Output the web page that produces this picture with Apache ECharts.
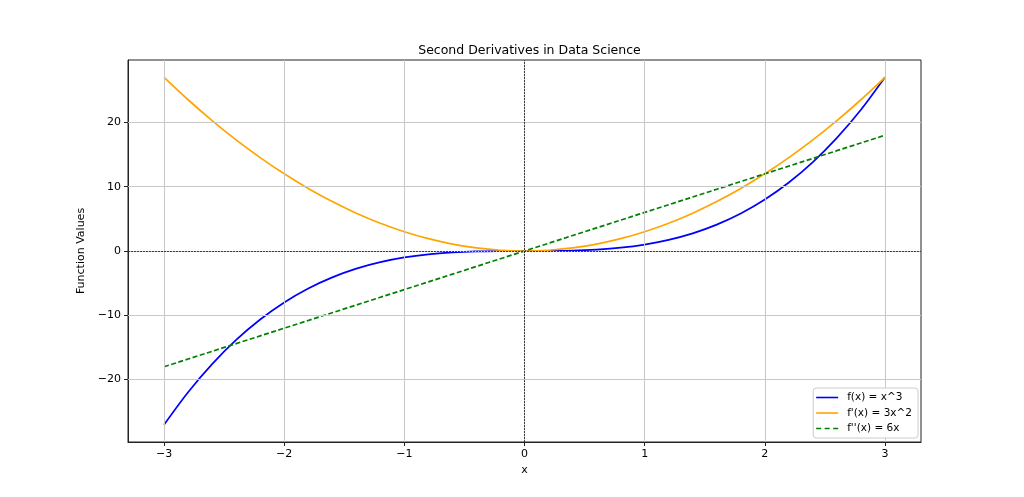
<!DOCTYPE html>
<html><head><meta charset="utf-8">
<script src="https://cdn.jsdelivr.net/npm/echarts@6/dist/echarts.min.js"></script>
<style>html,body{margin:0;padding:0;background:#fff}#c{width:1024px;height:497px}</style>
</head><body><div id="c"></div>
<script>
const xs = [-3,-2.8,-2.6,-2.4,-2.2,-2,-1.8,-1.6,-1.4,-1.2,-1,-0.8,-0.6,-0.4,-0.2,0,0.2,0.4,0.6,0.8,1,1.2,1.4,1.6,1.8,2,2.2,2.4,2.6,2.8,3];
const fVals = [-27,-21.95,-17.58,-13.82,-10.65,-8,-5.83,-4.1,-2.74,-1.73,-1,-0.51,-0.22,-0.06,-0.01,0,0.01,0.06,0.22,0.51,1,1.73,2.74,4.1,5.83,8,10.65,13.82,17.58,21.95,27];
const f1Vals = [27,23.52,20.28,17.28,14.52,12,9.72,7.68,5.88,4.32,3,1.92,1.08,0.48,0.12,0,0.12,0.48,1.08,1.92,3,4.32,5.88,7.68,9.72,12,14.52,17.28,20.28,23.52,27];
const f2Vals = [-18,-16.8,-15.6,-14.4,-13.2,-12,-10.8,-9.6,-8.4,-7.2,-6,-4.8,-3.6,-2.4,-1.2,0,1.2,2.4,3.6,4.8,6,7.2,8.4,9.6,10.8,12,13.2,14.4,15.6,16.8,18];
const seriesNames = ["f(x) = x^3", "f'(x) = 3x^2", "f''(x) = 6x"];
const xTicks = [-3,-2,-1,0,1,2,3];
const yTicks = [-20,-10,0,10,20];
const titleText = "Second Derivatives in Data Science";
const xName = "x";
const yName = "Function Values";

const font = "DejaVu Sans";
const fmt = v => String(v).replace('-', '\u2212');
const pairs = vals => xs.map((x, i) => [x, vals[i]]);
const solidIcon = 'path://M0,0h22v1.6h-22z';
const dashIcon = 'path://M0,0h5v1.6h-5zM8.5,0h5v1.6h-5zM17,0h5v1.6h-5z';
const chart = echarts.init(document.getElementById('c'), null, {renderer: 'canvas'});
const axisLineStyle = {show: true, onZero: false, lineStyle: {color: '#222', width: 1}};
chart.setOption({
  animation: false,
  backgroundColor: '#fff',
  title: {text: titleText, left: 524.5, textAlign: 'center', top: 39,
    textStyle: {fontFamily: font, fontSize: 12.5, fontWeight: 'normal', color: '#000'}},
  grid: {left: 128, right: 103, top: 60, bottom: 55, show: true, borderColor: '#222', borderWidth: 1, containLabel: false},
  xAxis: {
    type: 'value', min: -3.3, max: 3.3, name: xName, nameLocation: 'middle', nameGap: 20,
    nameTextStyle: {fontFamily: font, fontSize: 11, color: '#000'},
    axisLine: axisLineStyle,
    axisLabel: {customValues: xTicks, formatter: fmt, fontFamily: font, fontSize: 11, color: '#000', margin: 7},
    axisTick: {show: true, inside: false, length: 4, customValues: xTicks, lineStyle: {color: '#222', width: 1}},
    splitLine: {show: false}
  },
  yAxis: {
    type: 'value', min: -29.7, max: 29.7, name: yName, nameLocation: 'middle', nameGap: 33,
    nameTextStyle: {fontFamily: font, fontSize: 11, color: '#000'},
    axisLine: axisLineStyle,
    axisLabel: {customValues: yTicks, formatter: fmt, fontFamily: font, fontSize: 11, color: '#000', margin: 7},
    axisTick: {show: true, inside: false, length: 4, customValues: yTicks, lineStyle: {color: '#222', width: 1}},
    splitLine: {show: false}
  },
  legend: {
    orient: 'vertical', right: 106, bottom: 59, padding: [4, 6, 4, 3], z: 100,
    itemWidth: 22, itemHeight: 1.6, itemGap: 4.5,
    backgroundColor: 'rgba(255,255,255,0.9)', borderColor: '#cccccc', borderWidth: 1, borderRadius: 3,
    textStyle: {fontFamily: font, fontSize: 10.5, color: '#000', padding: [0, 0, 0, 4]},
    data: [
      {name: seriesNames[0], icon: solidIcon, itemStyle: {color: '#0000ff'}},
      {name: seriesNames[1], icon: solidIcon, itemStyle: {color: '#ffa500'}},
      {name: seriesNames[2], icon: dashIcon, itemStyle: {color: '#008000'}}
    ]
  },
  series: [
    {name: 'grid', type: 'line', data: [], silent: true,
      markLine: {silent: true, symbol: 'none', label: {show: false},
        lineStyle: {color: '#c8c8c8', width: 1, type: 'solid'},
        data: xTicks.map(v => ({xAxis: v})).concat(yTicks.map(v => ({yAxis: v})))}},
    {name: seriesNames[0], type: 'line', data: pairs(fVals), showSymbol: false, symbol: 'none', smooth: 0.3,
      lineStyle: {color: '#0000ff', width: 1.7}, itemStyle: {color: '#0000ff'}, z: 3},
    {name: seriesNames[1], type: 'line', data: pairs(f1Vals), showSymbol: false, symbol: 'none', smooth: 0.3,
      lineStyle: {color: '#ffa500', width: 1.7}, itemStyle: {color: '#ffa500'}, z: 3},
    {name: seriesNames[2], type: 'line', data: pairs(f2Vals), showSymbol: false, symbol: 'none',
      lineStyle: {color: '#008000', width: 1.7, type: [5, 2.5]}, itemStyle: {color: '#008000'}, z: 4},
    {name: 'zero', type: 'line', data: [], silent: true, z: 2,
      markLine: {silent: true, symbol: 'none', label: {show: false},
        lineStyle: {color: '#000', width: 0.7, type: [2, 1]},
        data: [{xAxis: 0}, {yAxis: 0}]}}
  ]
});
</script></body></html>
